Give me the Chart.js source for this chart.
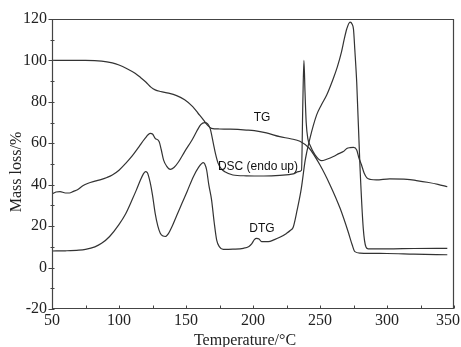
<!DOCTYPE html>
<html>
<head>
<meta charset="utf-8">
<script src="https://cdn.jsdelivr.net/npm/chart.js@4/dist/chart.umd.min.js"></script>
<style>
  html, body { margin: 0; padding: 0; background: #fff; }
  #wrap { width: 461px; height: 347px; }
</style>
</head>
<body>
<div id="wrap"><canvas id="tga"></canvas></div>
<script>
// TG curve (mass loss %)
const tgTemp = [50, 60, 75, 87, 95, 100, 106, 112, 116, 120, 124, 127, 131, 137, 143, 149, 155, 159, 163, 166, 169, 175, 183, 195, 201, 210, 220, 228, 235, 242, 250, 257.5, 265, 271, 274, 276, 280, 300, 320, 345];
const tgMass = [100, 100, 100, 99.7, 98.8, 97.8, 96, 93.8, 91.8, 89.6, 87, 85.8, 85, 84.2, 83, 81, 77.7, 74.5, 71.3, 68.8, 67.2, 66.9, 66.8, 66.4, 66.1, 65, 63.2, 62.2, 61, 57.6, 49.5, 39.9, 28.6, 17.3, 11, 7.7, 7, 6.8, 6.5, 6.2];

// DSC curve (endo up)
const dscTemp = [50, 53, 56, 60, 63, 66, 69, 73, 77, 82, 87, 91, 95, 100, 105, 110, 115, 119, 123.4, 125, 127, 130, 131.5, 133.3, 135.5, 138.3, 141, 144.5, 149, 154.5, 158, 161, 164, 166, 168, 170.4, 172, 174, 176.5, 179, 185, 195, 208, 220, 230, 234, 236.2, 237.2, 238, 238.8, 239.7, 241, 242.5, 246.3, 251.2, 255, 260, 264, 267.4, 270, 272.4, 275, 277.4, 279, 281, 283, 285, 288, 292, 302, 315, 322, 330, 338, 345];
const dscValue = [35.5, 36.5, 36.7, 36, 36, 36.8, 37.6, 39.5, 40.7, 41.7, 42.6, 43.5, 44.7, 47, 50.3, 54, 58.4, 62, 64.8, 64.5, 62.4, 60.8, 57, 51.9, 49, 47.4, 48.3, 51.1, 56, 61.6, 65.8, 69, 70, 69.5, 67.2, 60, 55, 50.3, 47.5, 46.3, 44.7, 44.3, 44.2, 44.5, 45.2, 46.3, 47, 80, 100, 85, 70, 62, 59.2, 54.4, 51.6, 52.3, 53.6, 55, 56, 57.5, 57.9, 58, 56.8, 53, 49.5, 45.5, 43.3, 42.5, 42.3, 42.8, 42.6, 42, 41.2, 40.2, 39];

// DTG curve
const dtgTemp = [50, 60, 70, 75, 82, 87, 93, 99.8, 105, 109.7, 113, 116, 118, 119.7, 121, 123.4, 125, 127, 129, 130.8, 133, 134.6, 137, 139.6, 143, 147, 151, 155.5, 159, 162.9, 164, 165.4, 167, 169.1, 171, 172.9, 175, 177.8, 185, 192.8, 197, 199, 201, 202.7, 204.5, 206.4, 211.4, 216, 220, 225, 228, 230, 233, 236, 239, 242.5, 247.5, 251, 255, 260, 263, 266, 268, 270, 272.4, 274, 275, 276, 277.4, 279.8, 282.3, 284.3, 286, 300, 320, 345];
const dtgValue = [8, 8.1, 8.4, 8.8, 10, 11.7, 15, 20.6, 26, 32.6, 37.5, 42.3, 45, 46.3, 46, 40.7, 35, 26.2, 20, 16.6, 15.2, 15, 16.5, 19.8, 25, 31, 37, 43.9, 48, 50.7, 50, 47.1, 40, 32.6, 22, 13.3, 10, 8.8, 8.9, 9.3, 10.2, 11.4, 13.5, 14.1, 13.8, 12.5, 12.5, 13.5, 14.6, 16.5, 18, 19.5, 28, 38, 52, 62.4, 73.7, 78.5, 83.3, 91.4, 97, 104, 110, 115.3, 118.5, 117.5, 115, 105, 89.5, 49.3, 18.8, 9.9, 9, 9, 9.2, 9.3];

const xTicks = [50, 100, 150, 200, 250, 300, 350];
const yTicks = [-20, 0, 20, 40, 60, 80, 100, 120];

const toPoints = (xs, ys) => xs.map((x, i) => ({ x: x, y: ys[i] }));

const lineColor = '#333';
const serif = 'Liberation Serif';

// frame, small ticks, x tick labels (last one kept inside the canvas) and curve labels
const framePlugin = {
  id: 'frame',
  afterDraw(chart) {
    const { ctx, chartArea: a, scales, width } = chart;
    const l = Math.round(a.left) + 0.5, r = Math.round(a.right) - 0.5;
    const t = Math.round(a.top) + 0.5, b = Math.round(a.bottom) - 0.5;
    ctx.save();
    ctx.strokeStyle = '#444';
    ctx.lineWidth = 1.2;
    ctx.beginPath();
    ctx.moveTo(l, t); ctx.lineTo(r, t); ctx.lineTo(r, b); ctx.lineTo(l, b); ctx.closePath();
    ctx.stroke();

    ctx.lineWidth = 1;
    ctx.beginPath();
    for (let v = 50; v <= 350; v += 25) {
      const px = Math.round(scales.x.getPixelForValue(v)) + 0.5;
      ctx.moveTo(px, b);
      ctx.lineTo(px, b - 3);
    }
    for (let v = -20; v <= 120; v += 10) {
      const py = Math.round(scales.y.getPixelForValue(v)) + 0.5;
      const major = v % 20 === 0;
      ctx.moveTo(major ? l - 4 : l - 2, py);
      ctx.lineTo(l + 2, py);
    }
    ctx.stroke();

    ctx.fillStyle = '#222';
    ctx.font = '16px "Liberation Serif", serif';
    ctx.textAlign = 'center';
    ctx.textBaseline = 'top';
    xTicks.forEach(v => {
      const label = String(v);
      const w = ctx.measureText(label).width;
      let cx = scales.x.getPixelForValue(v);
      cx = Math.min(cx, width - 1 - w / 2);
      ctx.fillText(label, cx, a.bottom + 4);
    });

    ctx.fillStyle = '#111';
    ctx.font = '12px "Liberation Sans", Arial, sans-serif';
    ctx.textBaseline = 'middle';
    const notes = [
      { text: 'TG', x: 206.7, y: 72.2 },
      { text: 'DSC (endo up)', x: 203.7, y: 48.6 },
      { text: 'DTG', x: 206.7, y: 18.6 }
    ];
    notes.forEach(n => {
      ctx.fillText(n.text, scales.x.getPixelForValue(n.x), scales.y.getPixelForValue(n.y));
    });
    ctx.restore();
  }
};

const series = (pts) => ({
  data: pts,
  borderColor: lineColor,
  borderWidth: 1.2,
  pointRadius: 0,
  fill: false,
  cubicInterpolationMode: 'monotone'
});

new Chart(document.getElementById('tga'), {
  type: 'line',
  data: {
    datasets: [
      series(toPoints(tgTemp, tgMass)),
      series(toPoints(dscTemp, dscValue)),
      series(toPoints(dtgTemp, dtgValue))
    ]
  },
  options: {
    responsive: true,
    maintainAspectRatio: false,
    animation: false,
    layout: { padding: { top: 19, right: 7, left: 0, bottom: 0 } },
    plugins: { legend: { display: false }, tooltip: { enabled: false } },
    scales: {
      x: {
        type: 'linear',
        min: 50,
        max: 350,
        afterBuildTicks: s => { s.ticks = xTicks.map(v => ({ value: v })); },
        afterFit: s => { s.height = 38; s.paddingLeft = 0; s.paddingRight = 0; },
        grid: { display: false, drawTicks: false },
        border: { display: false },
        ticks: { display: false },
        title: { display: true, text: 'Temperature/°C    ', color: '#222', font: { family: serif, size: 16, lineHeight: 1 }, padding: { top: 0, bottom: -2 } }
      },
      y: {
        min: -20,
        max: 120,
        afterBuildTicks: s => { s.ticks = yTicks.map(v => ({ value: v })); },
        afterFit: s => { s.width = 52; },
        grid: { display: false, drawTicks: false },
        border: { display: false },
        ticks: { color: '#222', font: { family: serif, size: 16 }, padding: 5 },
        title: { display: true, text: 'Mass loss/%    ', color: '#222', font: { family: serif, size: 16 }, padding: { top: 7, bottom: 0 } }
      }
    }
  },
  plugins: [framePlugin]
});
</script>
</body>
</html>
